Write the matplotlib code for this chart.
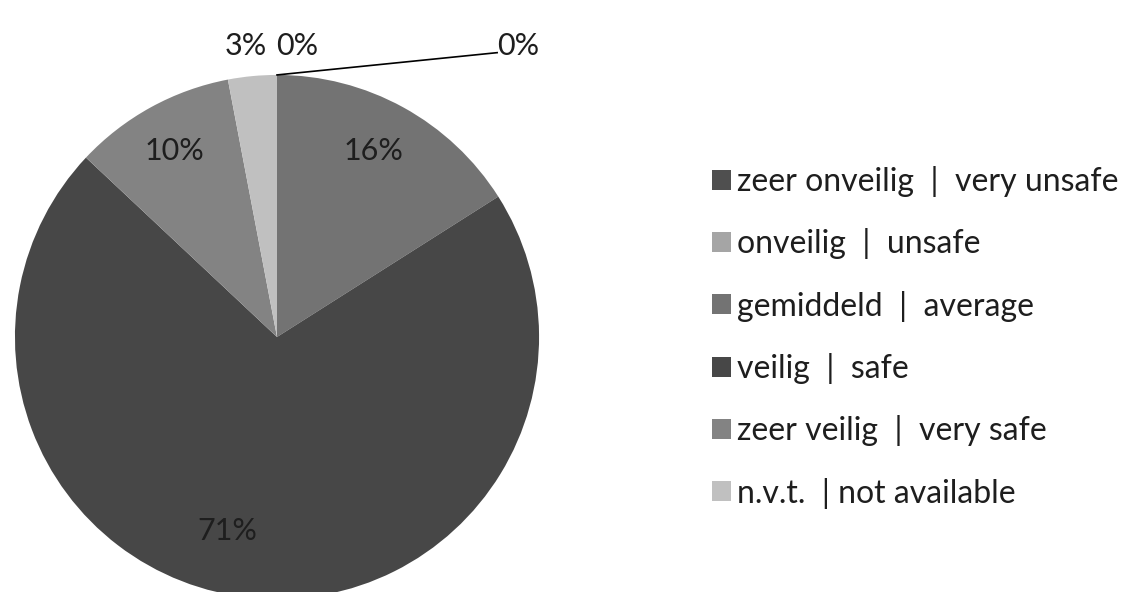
import matplotlib
matplotlib.use("Agg")
import matplotlib.pyplot as plt

labels = ["zeer onveilig  |  very unsafe", "onveilig  |  unsafe", "gemiddeld  |  average",
          "veilig  |  safe", "zeer veilig  |  very safe", "n.v.t.  | not available"]
values = [0, 0, 16, 71, 10, 3]
colors = ["#4f4f4f", "#a5a5a5", "#737373", "#474747", "#838383", "#c0c0c0"]

# label spots (pie units, radius 1)
label_pos = [(0.92, 1.11), (0.076, 1.11), (0.37, 0.71), (-0.19, -0.74), (-0.39, 0.71), (-0.12, 1.11)]

plt.rcParams["font.family"] = ["Lato", "DejaVu Sans"]
txt = "#1e1e1e"

fig = plt.figure(figsize=(11.33, 5.92), dpi=100)
ax = fig.add_axes([0, -22 / 592, 554 / 1133, 554 / 592])
wedges, _ = ax.pie(values, colors=colors, startangle=90, counterclock=False,
                   wedgeprops=dict(linewidth=0))
ax.set_xlim(-1.057, 1.057)
ax.set_ylim(-1.057, 1.057)
ax.set_aspect("equal")
ax.axis("off")

for v, (x, y) in zip(values, label_pos):
    ax.text(x, y, f"{v}%", ha="center", va="center", fontsize=22, color=txt, clip_on=False)

# leader line for the first 0% label
ax.plot([0, 0.84], [1.0, 1.085], color="black", lw=1.2, clip_on=False)

fig.legend(wedges, labels, loc="upper left", bbox_to_anchor=(712 / 1133, 1 - 166 / 592),
           frameon=False, fontsize=23, labelcolor=txt, handlelength=0.6, handleheight=0.6,
           handletextpad=0.19, labelspacing=0.98, borderpad=0, borderaxespad=0)

fig.savefig("out.png", dpi=100)
